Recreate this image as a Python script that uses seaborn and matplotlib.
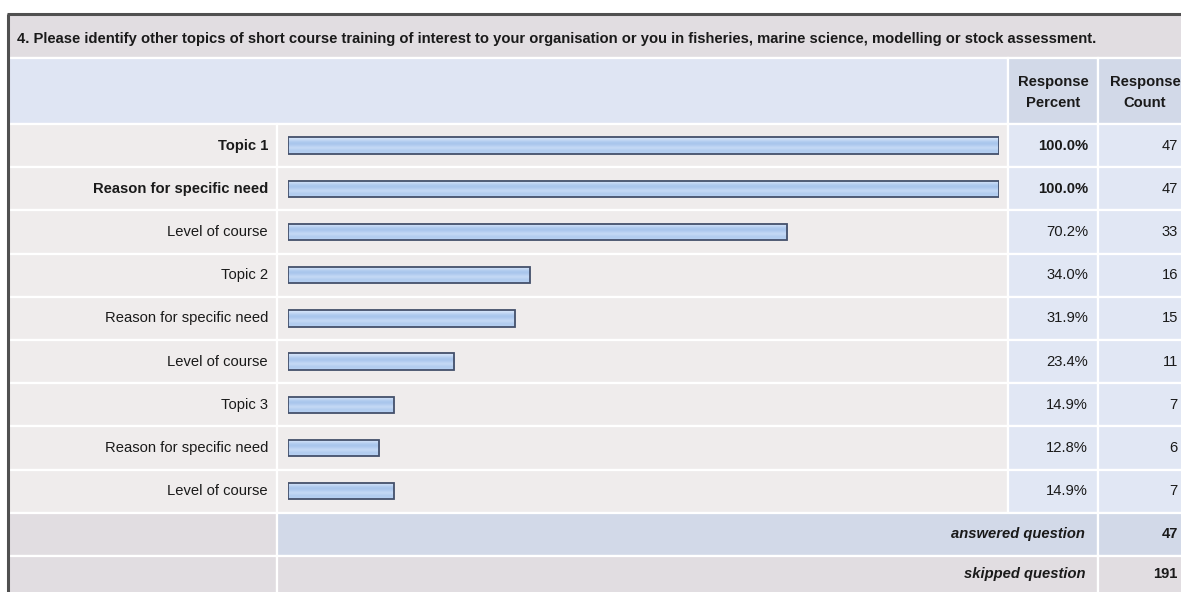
import numpy as np
import pandas as pd
import matplotlib
matplotlib.use("Agg")
import matplotlib.pyplot as plt
from matplotlib.patches import Rectangle
import seaborn as sns

# ---- survey data ----
question = ("4. Please identify other topics of short course training of interest to your "
            "organisation or you in fisheries, marine science, modelling or stock assessment.")
answer_labels = ["Topic 1", "Reason for specific need", "Level of course",
                 "Topic 2", "Reason for specific need", "Level of course",
                 "Topic 3", "Reason for specific need", "Level of course"]
response_percent = [100.0, 100.0, 70.2, 34.0, 31.9, 23.4, 14.9, 12.8, 14.9]
response_count = [47, 47, 33, 16, 15, 11, 7, 6, 7]
bold_rows = [True, True, False, False, False, False, False, False, False]
answered_question = 47
skipped_question = 191

sns.set_theme(style="white")
plt.rcParams["font.family"] = ["Liberation Sans", "DejaVu Sans"]

W, H = 1181, 592
fig = plt.figure(figsize=(W / 100, H / 100), dpi=100)
fig.patch.set_facecolor("white")

# background axes in pixel units for the table grid
bg = fig.add_axes([0, 0, 1, 1])
bg.set_xlim(0, W)
bg.set_ylim(H, 0)
bg.axis("off")

# table geometry (pixels)
x_left, x_lab, x_bar, x_pct, x_end = 8, 277, 1008, 1098, 1190
y_top, y_head, y_rows = 14, 58, 124
row_h = 43.2
n = len(answer_labels)
y_rows_end = y_rows + row_h * n
y_ans_end = y_rows_end + 43
y_skip_end = H + 5

GRAY = "#e1dde1"
HEAD_BLUE = "#dfe5f3"
COL_BLUE = "#d2d9e8"
ROW_GRAY = "#efecec"
ROW_BLUE = "#e1e7f4"
TXT = "#1a1a1a"
SEP = "white"
FS = 10.6


def cell(x0, y0, x1, y1, color):
    bg.add_patch(Rectangle((x0, y0), x1 - x0, y1 - y0, facecolor=color,
                           edgecolor=SEP, linewidth=1.6, zorder=1))


# title band
cell(x_left, y_top, x_end, y_head, GRAY)
bg.text(x_left + 9, 39, question, fontsize=FS, fontweight="bold",
        color=TXT, va="center", ha="left", zorder=3)

# header row
cell(x_left, y_head, x_bar, y_rows, HEAD_BLUE)
cell(x_bar, y_head, x_pct, y_rows, COL_BLUE)
cell(x_pct, y_head, x_end, y_rows, COL_BLUE)
for cx, sub in [((x_bar + x_pct) / 2, "Percent"), (1145, "Count")]:
    bg.text(cx, 82, "Response", fontsize=FS, fontweight="bold", color=TXT,
            ha="center", va="center", zorder=3)
    bg.text(cx, 103, sub, fontsize=FS, fontweight="bold", color=TXT,
            ha="center", va="center", zorder=3)

# answer rows
for i in range(n):
    y0 = y_rows + row_h * i
    y1 = y0 + row_h
    cy = (y0 + y1) / 2
    cell(x_left, y0, x_lab, y1, ROW_GRAY)
    cell(x_lab, y0, x_bar, y1, ROW_GRAY)
    cell(x_bar, y0, x_pct, y1, ROW_BLUE)
    cell(x_pct, y0, x_end, y1, ROW_BLUE)
    w = "bold" if bold_rows[i] else "normal"
    bg.text(268, cy, answer_labels[i], fontsize=FS, fontweight=w, color=TXT,
            ha="right", va="center", zorder=3)
    bg.text(1088, cy, f"{response_percent[i]:.1f}%", fontsize=FS, fontweight=w,
            color=TXT, ha="right", va="center", zorder=3)
    bg.text(1178, cy, f"{response_count[i]}", fontsize=FS, color=TXT,
            ha="right", va="center", zorder=3)

# summary rows
cy = (y_rows_end + y_ans_end) / 2
cell(x_left, y_rows_end, x_lab, y_ans_end, GRAY)
cell(x_lab, y_rows_end, x_pct, y_ans_end, COL_BLUE)
cell(x_pct, y_rows_end, x_end, y_ans_end, COL_BLUE)
bg.text(1085, cy, "answered question", fontsize=FS, fontweight="bold", style="italic",
        color=TXT, ha="right", va="center", zorder=3)
bg.text(1178, cy, f"{answered_question}", fontsize=FS, fontweight="bold",
        color=TXT, ha="right", va="center", zorder=3)

cy = (y_ans_end + H) / 2
cell(x_left, y_ans_end, x_lab, y_skip_end, GRAY)
cell(x_lab, y_ans_end, x_pct, y_skip_end, GRAY)
cell(x_pct, y_ans_end, x_end, y_skip_end, GRAY)
bg.text(1085, cy, "skipped question", fontsize=FS, fontweight="bold", style="italic",
        color=TXT, ha="right", va="center", zorder=3)
bg.text(1178, cy, f"{skipped_question}", fontsize=FS, fontweight="bold",
        color=TXT, ha="right", va="center", zorder=3)

# outer border (top and left)
bg.plot([x_left, x_left], [y_top, H + 2], color="#505050", lw=2.2, zorder=4,
        solid_capstyle="butt")
bg.plot([x_left - 1, W + 2], [y_top, y_top], color="#505050", lw=2.2, zorder=4,
        solid_capstyle="butt")

# ---- bar chart axes inside the bar column ----
bar_x0, bar_x1 = 288, 999
ax = fig.add_axes([bar_x0 / W, 1 - y_rows_end / H, (bar_x1 - bar_x0) / W,
                   (y_rows_end - y_rows) / H])
ax.patch.set_alpha(0)
df = pd.DataFrame({"row": np.arange(n), "percent": response_percent})
sns.barplot(data=df, x="percent", y="row", orient="h", width=0.38,
            color="#a9c3eb", saturation=1, edgecolor="#44506b", linewidth=1.3, ax=ax)
ax.set_xlim(0, 100)
ax.set_ylim(n - 0.5, -0.5)
ax.axis("off")

# glossy vertical gradient inside each bar
grad_cols = np.array([
    [0.84, 0.90, 0.98],
    [0.74, 0.83, 0.95],
    [0.64, 0.76, 0.92],
    [0.70, 0.80, 0.94],
    [0.80, 0.87, 0.97],
    [0.68, 0.79, 0.93],
    [0.72, 0.82, 0.95],
])
grad = grad_cols[:, None, :]
for p in list(ax.patches):
    x0, y0 = p.get_x(), p.get_y()
    w, h = p.get_width(), p.get_height()
    im = ax.imshow(grad, extent=(x0, x0 + w, y0 + h, y0), aspect="auto",
                   interpolation="bicubic", zorder=2)
    im.set_clip_path(p)
    p.set_facecolor("none")
    p.set_zorder(3)
ax.set_xlim(0, 100)
ax.set_ylim(n - 0.5, -0.5)

fig.savefig("out.png", dpi=100)
